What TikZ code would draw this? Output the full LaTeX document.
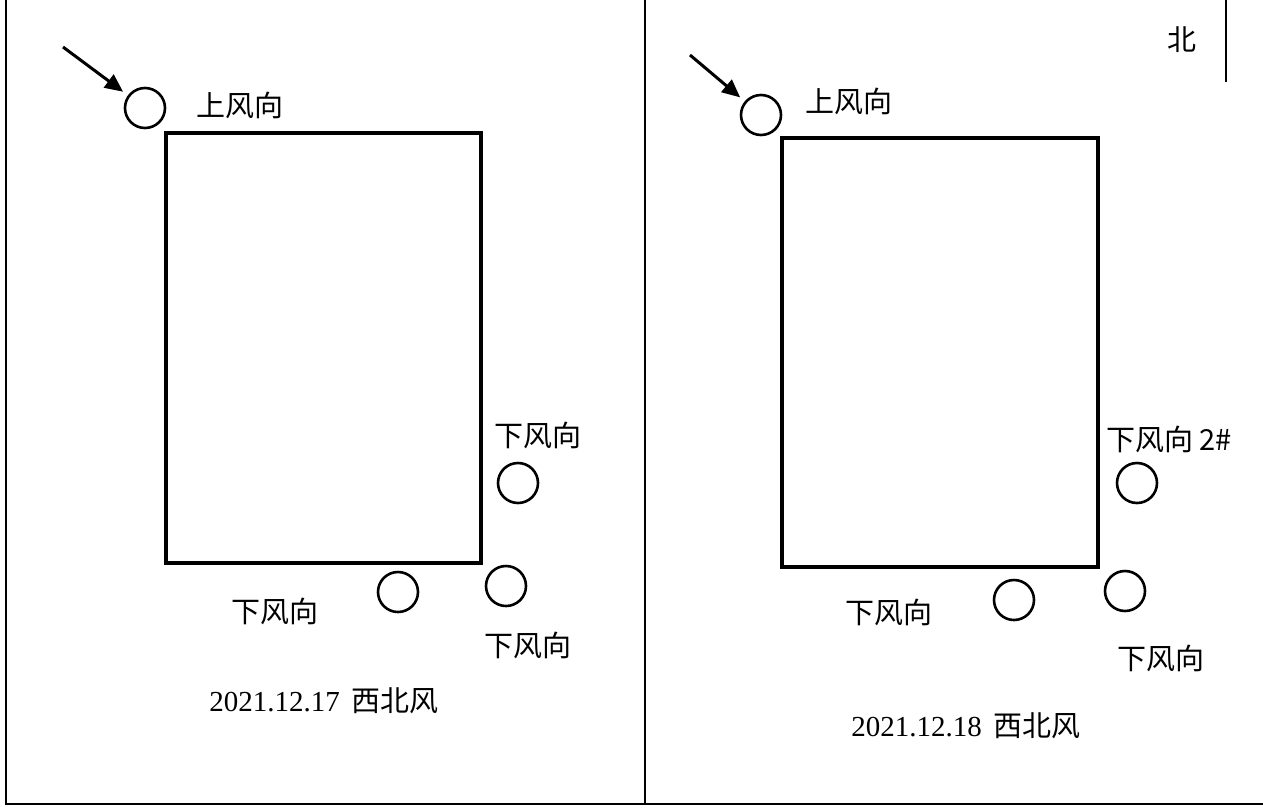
\documentclass[tikz,border=0pt]{standalone}
\usepackage{fontspec}
\setmainfont{Liberation Serif}
\newfontfamily\cjk{Noto Sans CJK SC}
\usetikzlibrary{arrows.meta}
\begin{document}
\begin{tikzpicture}[x=1pt,y=-1pt,
  frame/.style={line width=1.5pt},
  site/.style={circle,draw,line width=2.6pt,minimum size=40pt,inner sep=0pt},
  area/.style={draw,line width=3.2pt},
  lbl/.style={font=\cjk\fontsize{29}{32}\selectfont,inner sep=0pt},
  datel/.style={font=\fontsize{29}{32}\selectfont,inner sep=0pt},
  wind/.style={line width=3pt,-{Triangle[length=18pt,width=16pt]},shorten >=6pt}]
\useasboundingbox (0,0) rectangle (1263,809);
% frame
\draw[frame] (6,0) -- (6,804) -- (1263,804);
\draw[frame] (645,0) -- (645,804);
\draw[frame] (1226,0) -- (1226,82);
\node[lbl] (north) at (1182,40) {北};
% left panel
\draw[area] (166,133) rectangle (481,563);
\node[site] (L1) at (145,108) {};
\node[lbl] (L1t) at (240,105) {上风向};
\coordinate (La) at (63,47);
\draw[wind] (La) -- (L1);
\node[site] (L2) at (518,483) {};
\node[lbl] (L2t) at (538,435) {下风向};
\node[site] (L3) at (506,586) {};
\node[lbl] (L3t) at (528,645) {下风向};
\node[site] (L4) at (398,592) {};
\node[lbl] (L4t) at (275,611) {下风向};
\node[datel] (Ld) at (324,701) {2021.12.17\hspace{12pt}{\cjk 西北风}};
% right panel
\draw[area] (782,138) rectangle (1098,567);
\node[site] (R1) at (761,115) {};
\node[lbl] (R1t) at (849,101) {上风向};
\coordinate (Ra) at (690,55);
\draw[wind] (Ra) -- (R1);
\node[site] (R2) at (1137,483) {};
\node[lbl] (R2t) at (1169,439) {下风向 2\#};
\node[site] (R3) at (1125,591) {};
\node[lbl] (R3t) at (1161,658) {下风向};
\node[site] (R4) at (1014,600) {};
\node[lbl] (R4t) at (889,612) {下风向};
\node[datel] (Rd) at (966,726) {2021.12.18\hspace{12pt}{\cjk 西北风}};
\end{tikzpicture}
\end{document}
